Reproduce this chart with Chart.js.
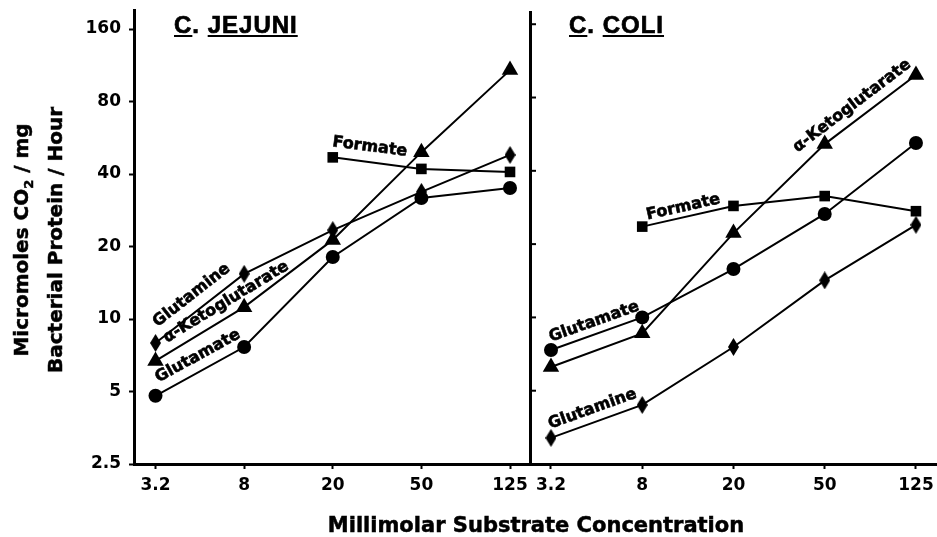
<!DOCTYPE html>
<html>
<head>
<meta charset="utf-8">
<script src="https://cdn.jsdelivr.net/npm/chart.js@4.4.1/dist/chart.umd.min.js"></script>
<style>
  html, body { margin:0; padding:0; background:#fff; }
  body { width:937px; height:537px; position:relative; overflow:hidden; }
  .panel { position:absolute; top:0; height:537px; }
  .ptitle { position:absolute; top:12.6px; font:bold 24px "Liberation Sans", Arial, sans-serif; letter-spacing:1px; line-height:24px; color:#000; white-space:nowrap; -webkit-text-stroke:0.7px #000; }
  .ptitle u { text-decoration-thickness:2px; text-underline-offset:2px; }
  #xtitle { position:absolute; left:536px; top:514.5px; transform:translateX(-50%); font:bold 21px "DejaVu Sans", sans-serif; line-height:21px; white-space:nowrap; color:#000; -webkit-text-stroke:0.5px #000; }
  #ytitle { position:absolute; left:37.7px; top:240px; transform:translate(-50%,-50%) rotate(-90deg); font:bold 20px "DejaVu Sans", sans-serif; line-height:34px; white-space:nowrap; text-align:center; color:#000; -webkit-text-stroke:0.5px #000; }
  #ytitle sub { font-size:13px; line-height:0; }
</style>
</head>
<body>
<div class="panel" style="left:0;width:531px;"><canvas id="left"></canvas></div>
<div class="panel" style="left:500px;width:437px;"><canvas id="right"></canvas></div>
<div class="ptitle" style="left:174px;"><u>C</u>. <u>JEJUNI</u></div>
<div class="ptitle" style="left:569px;"><u>C</u>. <u>COLI</u></div>
<div id="xtitle">Millimolar Substrate Concentration</div>
<div id="ytitle">Micromoles CO<sub>2</sub> / mg<br>Bacterial Protein / Hour</div>
<script>
// ---- data ----
const concentrations = [3.2, 8, 20, 50, 125];
const xTickValues = [3.2, 8, 20, 50, 125];
const yTickValues = [2.5, 5, 10, 20, 40, 80, 160];

const jejuniGlutamate = [4.8, 7.65, 18.1, 31.8, 35.0];
const jejuniKetoglutarate = [6.7, 11.2, 21.3, 49.3, 108];
const jejuniGlutamine = [7.95, 15.4, 23.4, 33.7, 48];
const jejuniFormate = [null, null, 46.9, 42, 40.8];

const coliGlutamate = [7.35, 10.0, 15.8, 26.6, 52];
const coliKetoglutarate = [6.26, 8.6, 22.2, 51.5, 99];
const coliGlutamine = [3.2, 4.37, 7.56, 14.2, 24];
const coliFormate = [null, 23.6, 28.7, 31.5, 27.3];

// ---- helpers ----
function pts(values) {
  const out = [];
  values.forEach((v, i) => { if (v !== null) out.push({ x: concentrations[i], y: v }); });
  return out;
}
function diamond(w, h) {
  const c = document.createElement('canvas');
  c.width = w; c.height = h;
  const g = c.getContext('2d');
  g.fillStyle = '#000';
  g.beginPath();
  g.moveTo(w / 2, 0); g.lineTo(w, h / 2); g.lineTo(w / 2, h); g.lineTo(0, h / 2);
  g.closePath(); g.fill();
  return c;
}
const diamondImg = diamond(11, 18);

function ds(values, style, radius) {
  return {
    data: pts(values),
    borderColor: '#000',
    backgroundColor: '#000',
    borderWidth: 2,
    pointStyle: style,
    pointRadius: radius,
    pointHoverRadius: radius,
    pointBorderWidth: 0,
    pointBackgroundColor: '#000',
    tension: 0,
    fill: false,
    clip: false
  };
}

const FONT = '"DejaVu Sans", sans-serif';

const seriesLabels = {
  id: 'seriesLabels',
  afterDatasetsDraw(chart, args, opts) {
    const ctx = chart.ctx;
    ctx.save();
    ctx.fillStyle = '#000';
    ctx.strokeStyle = '#000';
    ctx.lineWidth = 0.6;
    ctx.font = 'bold 16px ' + FONT;
    ctx.textAlign = 'center';
    ctx.textBaseline = 'middle';
    (opts.items || []).forEach(it => {
      const meta = chart.getDatasetMeta(it.ds);
      const p0 = meta.data[it.seg], p1 = meta.data[it.seg + 1];
      const ang = Math.atan2(p1.y - p0.y, p1.x - p0.x);
      const dx = Math.cos(ang), dy = Math.sin(ang);
      const nx = dy, ny = -dx;
      const cx = (p0.x + p1.x) / 2 + it.along * dx + it.normal * nx;
      const cy = (p0.y + p1.y) / 2 + it.along * dy + it.normal * ny;
      ctx.save();
      ctx.translate(cx, cy);
      ctx.rotate(ang);
      ctx.fillText(it.text, 0, 0);
      ctx.strokeText(it.text, 0, 0);
      ctx.restore();
    });
    ctx.restore();
  }
};

const innerTicks = {
  id: 'innerTicks',
  afterDraw(chart, args, opts) {
    if (!opts.enabled) return;
    const y = chart.scales.y, ctx = chart.ctx, left = chart.chartArea.left;
    ctx.save();
    ctx.strokeStyle = '#000';
    ctx.lineWidth = 2;
    y.ticks.forEach(t => {
      const py = y.getPixelForValue(t.value);
      ctx.beginPath();
      ctx.moveTo(left, py);
      ctx.lineTo(left + 6, py);
      ctx.stroke();
    });
    ctx.restore();
  }
};

function noPad(s) {
  s.paddingLeft = 0; s.paddingRight = 0; s.paddingTop = 0; s.paddingBottom = 0;
}

function xScale(min, max) {
  return {
    type: 'logarithmic', min: min, max: max,
    afterBuildTicks: s => { s.ticks = xTickValues.map(v => ({ value: v })); },
    afterFit: s => { s.height = 73; noPad(s); },
    grid: { drawOnChartArea: false, drawTicks: true, tickLength: 5, tickWidth: 2, tickColor: '#000' },
    border: { display: true, color: '#000', width: 3 },
    ticks: { color: '#000', font: { family: FONT, weight: 'bold', size: 17 }, padding: 6, autoSkip: false, maxRotation: 0, callback: v => String(v) }
  };
}

const common = {
  responsive: true,
  maintainAspectRatio: false,
  animation: false,
  events: [],
};

new Chart(document.getElementById('left'), {
  type: 'line',
  data: {
    datasets: [
      ds(jejuniGlutamate, 'circle', 7),
      ds(jejuniKetoglutarate, 'triangle', 9.5),
      ds(jejuniGlutamine, diamondImg, 9),
      ds(jejuniFormate, 'rect', 7.5)
    ]
  },
  options: Object.assign({}, common, {
    layout: { autoPadding: false, padding: { top: 10, right: 1, left: 0, bottom: 0 } },
    plugins: {
      legend: { display: false }, tooltip: { enabled: false },
      innerTicks: { enabled: false },
      seriesLabels: { items: [
        { ds: 2, seg: 0, text: 'Glutamine', along: 1.6, normal: 15.4 },
        { ds: 1, seg: 0, text: 'α-Ketoglutarate', along: 39, normal: 13.7 },
        { ds: 0, seg: 0, text: 'Glutamate', along: 5.6, normal: 14.3 },
        { ds: 3, seg: 0, text: 'Formate', along: -9.3, normal: 15.2 }
      ] }
    },
    scales: {
      x: xScale(2.562, 153.7),
      y: {
        type: 'logarithmic', min: 2.5, max: 191.9,
        afterBuildTicks: s => { s.ticks = yTickValues.map(v => ({ value: v })); },
        afterFit: s => { s.width = 134; noPad(s); },
        grid: { drawOnChartArea: false, drawTicks: true, tickLength: 5, tickWidth: 2, tickColor: '#000' },
        border: { display: true, color: '#000', width: 3 },
        ticks: { color: '#000', font: { family: FONT, weight: 'bold', size: 17 }, padding: 8, autoSkip: false, callback: v => String(v) }
      }
    }
  }),
  plugins: [seriesLabels, innerTicks]
});

new Chart(document.getElementById('right'), {
  type: 'line',
  data: {
    datasets: [
      ds(coliGlutamate, 'circle', 7),
      ds(coliKetoglutarate, 'triangle', 9.5),
      ds(coliGlutamine, diamondImg, 9),
      ds(coliFormate, 'rect', 7.5)
    ]
  },
  options: Object.assign({}, common, {
    layout: { autoPadding: false, padding: { top: 12, right: 0, left: 0, bottom: 0 } },
    plugins: {
      legend: { display: false }, tooltip: { enabled: false },
      innerTicks: { enabled: true },
      seriesLabels: { items: [
        { ds: 3, seg: 0, text: 'Formate', along: -2.5, normal: 9.8 },
        { ds: 1, seg: 3, text: 'α-Ketoglutarate', along: -12.4, normal: 13.9 },
        { ds: 0, seg: 0, text: 'Glutamate', along: 1.5, normal: 12 },
        { ds: 2, seg: 0, text: 'Glutamine', along: 0.2, normal: 13 }
      ] }
    },
    scales: {
      x: xScale(2.592, 154.4),
      y: {
        type: 'logarithmic', min: 2.5, max: 179.6,
        afterBuildTicks: s => { s.ticks = yTickValues.map(v => ({ value: v })); },
        afterFit: s => { s.width = 30; noPad(s); },
        grid: { drawOnChartArea: false, drawTicks: false },
        border: { display: true, color: '#000', width: 3 },
        ticks: { display: false }
      }
    }
  }),
  plugins: [seriesLabels, innerTicks]
});
</script>
</body>
</html>
